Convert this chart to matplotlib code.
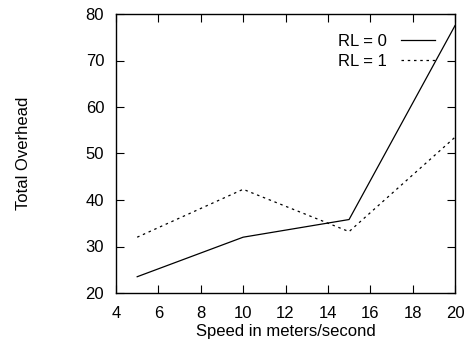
import matplotlib
matplotlib.use("Agg")
import matplotlib.pyplot as plt

plt.rcParams["font.family"] = ["Liberation Sans", "DejaVu Sans"]

# vitesse (m/s) et surcoût total
speed = [5, 10, 15, 20]
overhead_rl0 = [23.5, 32.0, 35.8, 77.5]
overhead_rl1 = [32.0, 42.3, 33.2, 53.5]
labels = ["RL = 0", "RL = 1"]

fig = plt.figure(figsize=(4.65, 3.43), dpi=100)
ax = fig.add_axes([116 / 465, 1 - 293 / 343, (455 - 116) / 465, (293 - 14) / 343])

ax.plot(speed, overhead_rl0, color="black", linewidth=0.9, label=labels[0])
ax.plot(speed, overhead_rl1, color="black", linewidth=0.9, linestyle=(0, (2, 3)),
        label=labels[1])

ax.set_xlim(4, 20)
ax.set_ylim(20, 80)
ax.set_xticks(range(4, 21, 2))
ax.set_yticks(range(20, 81, 10))
ax.tick_params(direction="in", top=True, right=True, length=6, width=0.8,
               labelsize=12)
ax.tick_params(axis="x", pad=9.5)
ax.tick_params(axis="y", pad=8.5)
for s in ax.spines.values():
    s.set_linewidth(1.0)

ax.set_xlabel("Speed in meters/second", fontsize=12, labelpad=2)
ax.set_ylabel("Total Overhead", fontsize=12)
ax.yaxis.set_label_coords(-0.251, 0.5)

ax.legend(loc="upper right", frameon=False, markerfirst=False, fontsize=12,
          handlelength=2.0, handletextpad=0.9, labelspacing=0.3,
          borderaxespad=0.0, borderpad=0.2, bbox_to_anchor=(0.95, 0.94))

fig.savefig("out.png", dpi=100)
